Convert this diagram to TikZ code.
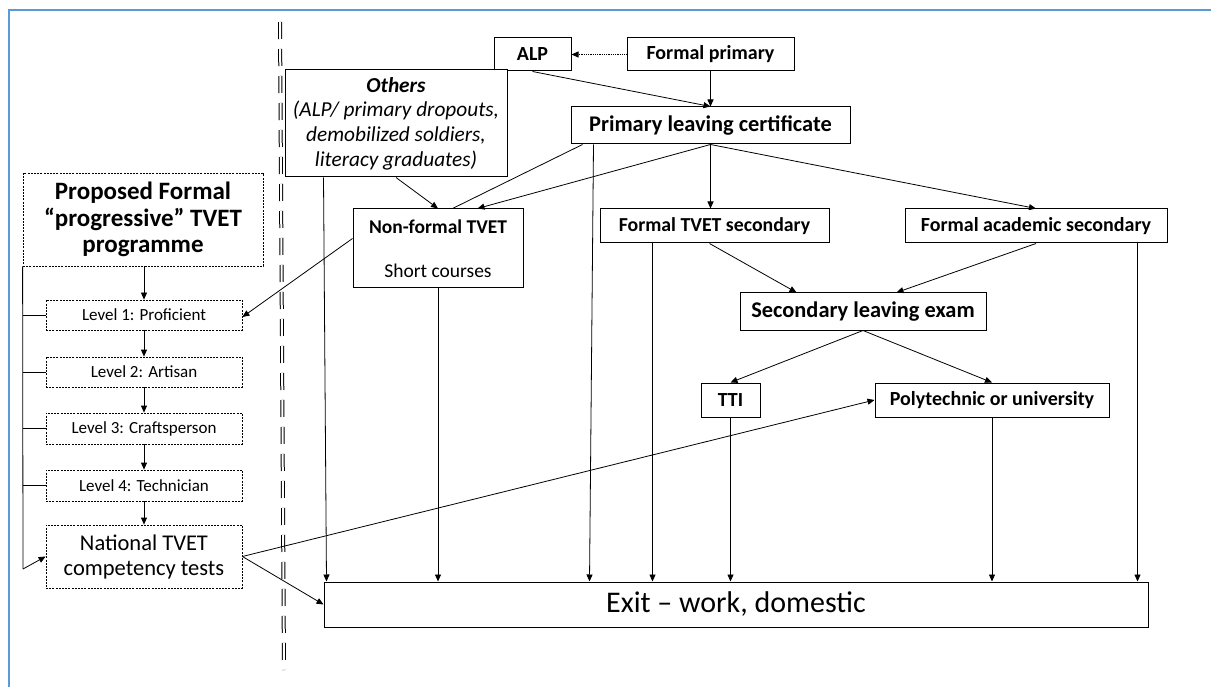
\documentclass[tikz,border=0pt]{standalone}
\usepackage{fontspec}
\setmainfont{Carlito}
\usetikzlibrary{arrows.meta,calc}
\newcommand\myfs[2]{\fontsize{#1}{#2}\selectfont}
\definecolor{frameblue}{RGB}{91,155,213}
\tikzset{
  box/.style={draw, line width=1pt, inner sep=0pt, align=center},
  dbox/.style={box, line width=0.8pt, dash pattern=on 2pt off 1.2pt},
  arr/.style={-{Triangle[length=7pt,width=6pt]}, line width=0.8pt},
  plain/.style={line width=0.8pt},
  dotarr/.style={arr, dash pattern=on 1pt off 0.8pt},
}
\begin{document}
\begin{tikzpicture}[x=1pt,y=-1pt]
\useasboundingbox (0,0) rectangle (1211,687);
% frame
\draw[frameblue, line width=2pt] (9,687) -- (9,10) -- (1211,10);
% divider
\draw[line width=1pt, double, double distance=2pt, dash pattern=on 17pt off 10pt] (280,22) -- (284,670);

% right side nodes
\node[box, minimum width=77pt, minimum height=33pt, font=\myfs{20}{24}\bfseries] (alp) at (532.5,54.5) {ALP};
\node[box, minimum width=167pt, minimum height=33pt, font=\myfs{20}{24}\bfseries] (fp) at (710.5,54.5) {Formal primary};
\node[box, minimum width=279pt, minimum height=37pt, font=\myfs{22.4}{26}\bfseries] (plc) at (710.5,125.5) {Primary leaving certificate};
\node[box, fill=white, minimum width=222pt, minimum height=107pt, font=\myfs{21.3}{24.7}\itshape] (oth) at (396,123.5) {\textbf{Others}\\(ALP/ primary dropouts,\\demobilized soldiers,\\literacy graduates)};
\node[box, minimum width=170pt, minimum height=79pt, font=\myfs{19.5}{23}] (nft) at (438,248.5) {\textbf{Non-formal TVET}\\[21pt]Short courses};
\node[box, minimum width=229pt, minimum height=34pt, font=\myfs{19.8}{23}\bfseries] (fts) at (714.5,226) {Formal TVET secondary};
\node[box, minimum width=262pt, minimum height=34pt, font=\myfs{20}{23}\bfseries] (fas) at (1036,226) {Formal academic secondary};
\node[box, minimum width=246pt, minimum height=37pt, font=\myfs{22.4}{26}\bfseries] (sle) at (863,311.5) {Secondary leaving exam};
\node[box, minimum width=59pt, minimum height=34pt, font=\myfs{20}{23}\bfseries] (tti) at (730.5,400) {TTI};
\node[box, minimum width=234pt, minimum height=34pt, font=\myfs{20}{23}\bfseries] (poly) at (992,400) {Polytechnic or university};
\node[box, minimum width=824pt, minimum height=45pt, font=\myfs{30}{34}] (exit) at (736,604.5) {Exit -- work, domestic};

% left side nodes
\node[dbox, minimum width=240pt, minimum height=93pt, font=\myfs{25}{26.5}\bfseries] (prop) at (143,219.5) {Proposed Formal\\``progressive'' TVET\\programme};
\node[dbox, minimum width=196pt, minimum height=30pt, font=\myfs{17}{20}] (l1) at (144,315) {Level 1: Proficient};
\node[dbox, minimum width=196pt, minimum height=30pt, font=\myfs{17}{20}] (l2) at (144,372) {Level 2: Artisan};
\node[dbox, minimum width=196pt, minimum height=31pt, font=\myfs{17}{20}] (l3) at (144,428.5) {Level 3: Craftsperson};
\node[dbox, minimum width=196pt, minimum height=31pt, font=\myfs{17}{20}] (l4) at (144,485.5) {Level 4: Technician};
\node[dbox, minimum width=196pt, minimum height=63pt, font=\myfs{22.5}{25}] (nat) at (144,556.5) {National TVET\\competency tests};

% connectors (top)
\draw[dotarr] (fp.west) -- (alp.east);
\draw[arr] (alp.south) -- (plc.north);
\draw[arr] (fp.south) -- (plc.north);
\draw[arr] (oth.south) -- (nft.north);
\draw[arr] ([xshift=39pt]oth.south west) -- ([xshift=3pt]exit.north west);
\draw[plain] ([xshift=12pt]plc.south west) -- ([xshift=100pt]nft.north west);
\draw[arr] (plc.south) -- ([xshift=125pt]nft.north west);
\draw[arr] ([xshift=23pt]plc.south west) -- ([xshift=266pt]exit.north west);
\draw[arr] (plc.south) -- (plc.south |- fts.north);
\draw[arr] (plc.south) -- (fas.north);
\draw[arr] (nft.south) -- (nft.south |- exit.north);
\draw[arr] ([xshift=53pt]fts.south west) -- ([xshift=53pt]fts.south west |- exit.north);
\draw[arr] ([xshift=110pt]fts.south west) -- ([xshift=57pt]sle.north west);
\draw[arr] (fas.south) -- ([xshift=157pt]sle.north west);
\draw[arr] ([xshift=-30pt]fas.south east) -- ([xshift=-30pt]fas.south east |- exit.north);
\draw[arr] (sle.south) -- (tti.north);
\draw[arr] (sle.south) -- (poly.north);
\draw[arr] (tti.south) -- (tti.south |- exit.north);
\draw[arr] (poly.south) -- (poly.south |- exit.north);

% left programme
\draw[arr] ([yshift=10pt]nft.west) -- ([yshift=-2pt]l1.east);
\draw[arr] (prop.south -| l1.north) -- (l1.north);
\draw[arr] (l1.south) -- (l2.north);
\draw[arr] (l2.south) -- (l3.north);
\draw[arr] (l3.south) -- (l4.north);
\draw[arr] (l4.south) -- (nat.north);
\coordinate (bk) at (23,569);
\draw[plain] (prop.south west) -- (bk);
\draw[plain] (bk |- l1.west) -- (l1.west);
\draw[plain] (bk |- l2.west) -- (l2.west);
\draw[plain] (bk |- l3.west) -- (l3.west);
\draw[plain] (bk |- l4.west) -- (l4.west);
\draw[arr] (bk) -- (nat.west);
\draw[arr] (nat.east) -- (poly.west);
\draw[arr] (nat.east) -- (exit.west);
\end{tikzpicture}
\end{document}
